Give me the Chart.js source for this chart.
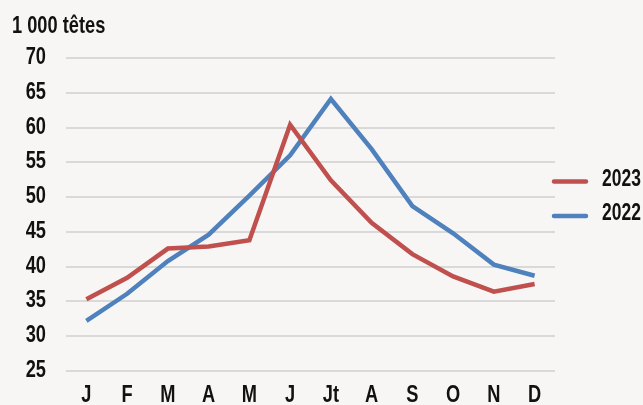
<!DOCTYPE html>
<html>
<head>
<meta charset="utf-8">
<script src="https://cdn.jsdelivr.net/npm/chart.js@4"></script>
<style>
  html, body { margin: 0; padding: 0; background: #f7f6f4; }
  #wrap { width: 643px; height: 405px; position: relative; }
</style>
</head>
<body>
<div id="wrap"><canvas id="myChart" width="643" height="405"></canvas></div>
<script>
const months = ["J", "F", "M", "A", "M", "J", "Jt", "A", "S", "O", "N", "D"];
const series2023 = [35.3, 38.4, 42.6, 42.9, 43.8, 60.4, 52.4, 46.3, 41.8, 38.6, 36.4, 37.5];
const series2022 = [32.2, 36.1, 40.8, 44.6, 50.2, 56.0, 64.1, 56.9, 48.7, 44.8, 40.3, 38.7];
const seriesNames = ["2023", "2022"];
const yTicks = [25, 30, 35, 40, 45, 50, 55, 60, 65, 70];
const unitLabel = "1 000 têtes";

const FONT = '"Liberation Sans", Arimo, sans-serif';
const red = "#c0504d";
const blue = "#4f81bd";

// pas de police condensée installée : on écrase le texte horizontalement
function narrowText(ctx, text, x, y, align, size) {
  ctx.save();
  ctx.font = "bold " + size + "px " + FONT;
  ctx.textAlign = align;
  ctx.textBaseline = "alphabetic";
  ctx.translate(x, y);
  ctx.scale(0.76, 1);
  ctx.fillText(text, 0, 0);
  ctx.restore();
}

// textes des axes, titre et légende
const extras = {
  id: "extras",
  afterDraw(chart) {
    const ctx = chart.ctx;
    const xs = chart.scales.x;
    const ys = chart.scales.y;
    ctx.save();
    ctx.fillStyle = "#111";
    narrowText(ctx, unitLabel, 12, 33, "left", 24);
    yTicks.forEach((v) => {
      narrowText(ctx, String(v), 46, ys.getPixelForValue(v) + 6, "right", 24);
    });
    months.forEach((m, i) => {
      narrowText(ctx, m, xs.getPixelForValue(i), 402, "center", 24);
    });
    const items = [
      { name: seriesNames[0], color: red, y: 181.5 },
      { name: seriesNames[1], color: blue, y: 216 },
    ];
    items.forEach((it) => {
      ctx.strokeStyle = it.color;
      ctx.lineWidth = 4.5;
      ctx.lineCap = "round";
      ctx.beginPath();
      ctx.moveTo(554, it.y);
      ctx.lineTo(586, it.y);
      ctx.stroke();
      narrowText(ctx, it.name, 602, it.y + 4, "left", 23);
    });
    ctx.restore();
  },
};

const ctx = document.getElementById("myChart").getContext("2d");
new Chart(ctx, {
  type: "line",
  data: {
    labels: months,
    datasets: [
      {
        label: seriesNames[0],
        data: series2023,
        borderColor: red,
        backgroundColor: red,
        borderWidth: 4.5,
        pointRadius: 0,
        tension: 0,
      },
      {
        label: seriesNames[1],
        data: series2022,
        borderColor: blue,
        backgroundColor: blue,
        borderWidth: 4.5,
        pointRadius: 0,
        tension: 0,
      },
    ],
  },
  options: {
    responsive: false,
    animation: false,
    layout: { padding: { left: 0, right: 88, top: 58, bottom: 0 } },
    scales: {
      x: {
        offset: true,
        grid: { display: false, drawTicks: false },
        border: { display: false },
        ticks: { display: false, autoSkip: false },
        afterFit: (s) => { s.height = 34; },
      },
      y: {
        min: 25,
        max: 70,
        grid: { color: "#d9d9d9", lineWidth: 2, drawTicks: false },
        border: { display: false },
        ticks: { display: false, stepSize: 5 },
        afterFit: (s) => { s.width = 66; },
      },
    },
    plugins: {
      legend: { display: false },
      tooltip: { enabled: false },
    },
  },
  plugins: [extras],
});
</script>
</body>
</html>
